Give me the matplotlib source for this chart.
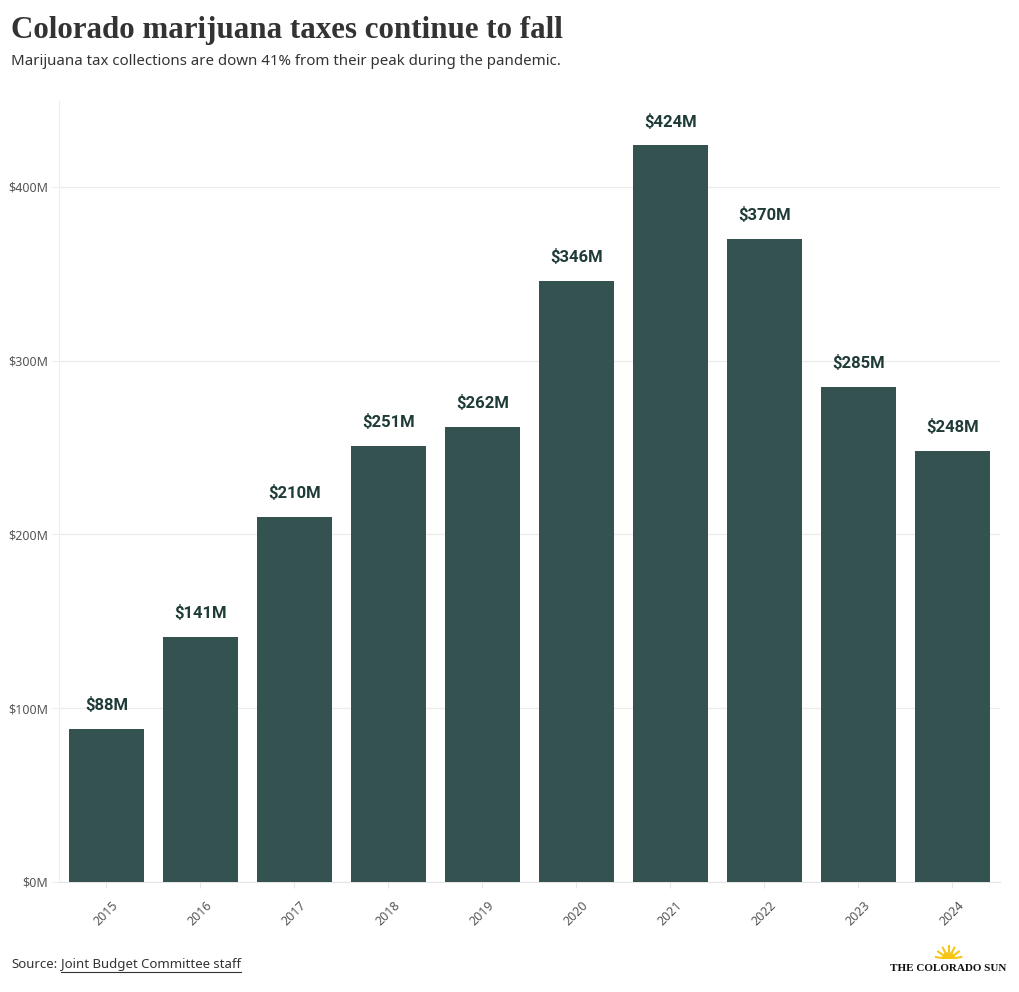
import numpy as np
import matplotlib.pyplot as plt
from matplotlib.patches import Wedge

years = ["2015", "2016", "2017", "2018", "2019", "2020", "2021", "2022", "2023", "2024"]
taxes = [88, 141, 210, 251, 262, 346, 424, 370, 285, 248]  # millions of dollars
yticks = [0, 100, 200, 300, 400]

bar_color = "#345350"
label_color = "#1f3b38"

fig = plt.figure(figsize=(10.2, 9.92), dpi=100)
ax = fig.add_axes([0.0578, 0.1109, 0.9225, 0.7883])

x = np.arange(len(years))
ax.bar(x, taxes, width=0.8, color=bar_color, zorder=3)
for xi, v in zip(x, taxes):
    ax.text(xi, v + 9, f"${v}M", ha="center", va="bottom", fontsize=12,
            fontweight="bold", color=label_color, family="Roboto", zorder=4)

ax.set_xlim(-0.505, 9.505)
ax.set_ylim(0, 450)
ax.set_xticks(x)
ax.set_xticklabels(years, rotation=45, fontsize=9, color="#555555", family="Noto Sans")
ax.set_yticks(yticks)
ax.set_yticklabels([f"${t}M" for t in yticks], fontsize=9, color="#555555", family="Noto Sans")
ax.tick_params(axis="y", length=6, color="#eeeeee", pad=2)
ax.tick_params(axis="x", length=4, color="#e5e5e5", pad=8)
ax.grid(axis="y", color="#ececec", linewidth=0.9, zorder=0)

for side in ["top", "right"]:
    ax.spines[side].set_visible(False)
ax.spines["left"].set_color("#eeeeee")
ax.spines["bottom"].set_color("#e5e5e5")

fig.text(0.0108, 0.962, "Colorado marijuana taxes continue to fall", fontsize=22.3,
         fontweight="bold", family="Liberation Serif", color="#333333", va="baseline")
fig.text(0.0108, 0.934, "Marijuana tax collections are down 41% from their peak during the pandemic.",
         fontsize=10.8, family="Noto Sans", color="#333333", va="baseline")

s1 = fig.text(0.0108, 0.024, "Source:", fontsize=9.5, family="Noto Sans", color="#333333", va="baseline")
fig.canvas.draw()
b1 = s1.get_window_extent().transformed(fig.transFigure.inverted())
src = fig.text(b1.x1 + 0.004, 0.024, "Joint Budget Committee staff", fontsize=9.5, family="Noto Sans",
               color="#333333", va="baseline")
fig.canvas.draw()
bb = src.get_window_extent().transformed(fig.transFigure.inverted())
fig.add_artist(plt.Line2D([bb.x0, bb.x1], [0.0205, 0.0205], color="#333333", linewidth=0.8,
                          transform=fig.transFigure))

# logo
fig.text(0.9296, 0.0215, "THE COLORADO SUN", fontsize=8, family="Liberation Serif",
         fontweight="bold", color="#111111", ha="center", va="baseline")
sun_ax = fig.add_axes([0.915, 0.033, 0.03, 0.015])
sun_ax.set_xlim(-1.5, 1.5)
sun_ax.set_ylim(0, 1.5)
sun_ax.set_aspect("equal")
sun_ax.axis("off")
sun_ax.add_patch(Wedge((0, 0), 0.65, 0, 180, color="#f5c518"))
for a in np.linspace(10, 170, 7):
    r = np.radians(a)
    sun_ax.plot([0.8 * np.cos(r), 1.3 * np.cos(r)], [0.8 * np.sin(r), 1.3 * np.sin(r)],
                color="#f5c518", linewidth=1.5)

fig.savefig("out.png", dpi=100)
